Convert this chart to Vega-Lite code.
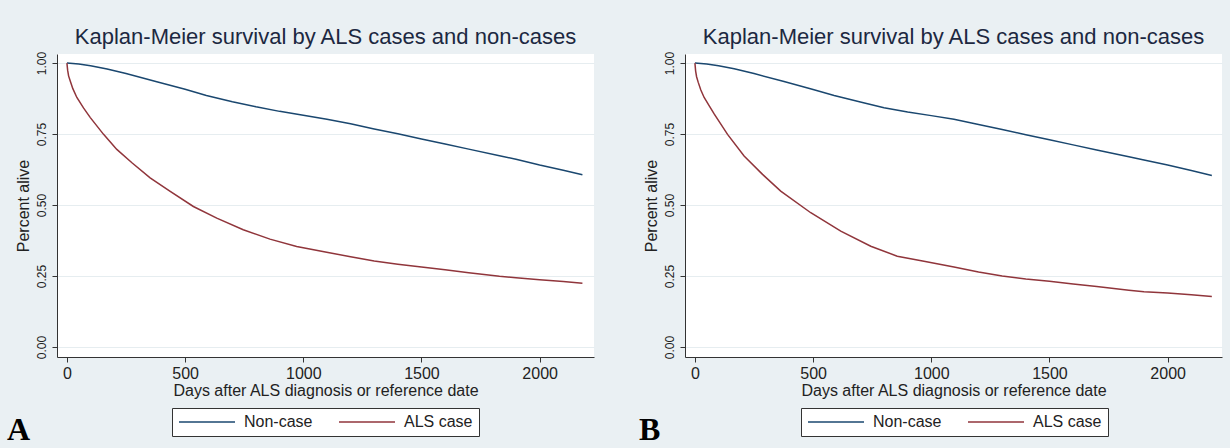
{
 "$schema": "https://vega.github.io/schema/vega-lite/v6.json",
 "background": "#eaf0f3",
 "padding": {"left": 7, "top": 26, "right": 8, "bottom": 5},
 "spacing": 45,
 "config": {
  "font": "Liberation Sans",
  "view": {"fill": "white", "stroke": null},
  "axis": {"domainColor": "#333333", "tickColor": "#333333", "labelColor": "#222222", "titleColor": "#222222", "titleFontWeight": "normal", "labelFlush": false}
 },
 "datasets": {
  "km": [
   {"panel":"A","group":"Non-case","days":0,"survival":1.0},
   {"panel":"A","group":"Non-case","days":50,"survival":0.997},
   {"panel":"A","group":"Non-case","days":100,"survival":0.991},
   {"panel":"A","group":"Non-case","days":170,"survival":0.979},
   {"panel":"A","group":"Non-case","days":250,"survival":0.963},
   {"panel":"A","group":"Non-case","days":380,"survival":0.934},
   {"panel":"A","group":"Non-case","days":500,"survival":0.908},
   {"panel":"A","group":"Non-case","days":590,"survival":0.886},
   {"panel":"A","group":"Non-case","days":700,"survival":0.864},
   {"panel":"A","group":"Non-case","days":800,"survival":0.846},
   {"panel":"A","group":"Non-case","days":900,"survival":0.830},
   {"panel":"A","group":"Non-case","days":1000,"survival":0.816},
   {"panel":"A","group":"Non-case","days":1100,"survival":0.802},
   {"panel":"A","group":"Non-case","days":1200,"survival":0.786},
   {"panel":"A","group":"Non-case","days":1300,"survival":0.768},
   {"panel":"A","group":"Non-case","days":1400,"survival":0.751},
   {"panel":"A","group":"Non-case","days":1500,"survival":0.733},
   {"panel":"A","group":"Non-case","days":1600,"survival":0.715},
   {"panel":"A","group":"Non-case","days":1700,"survival":0.697},
   {"panel":"A","group":"Non-case","days":1830,"survival":0.674},
   {"panel":"A","group":"Non-case","days":1900,"survival":0.661},
   {"panel":"A","group":"Non-case","days":2000,"survival":0.641},
   {"panel":"A","group":"Non-case","days":2100,"survival":0.623},
   {"panel":"A","group":"Non-case","days":2181,"survival":0.607},
   {"panel":"A","group":"ALS case","days":0,"survival":1.0},
   {"panel":"A","group":"ALS case","days":3,"survival":0.975},
   {"panel":"A","group":"ALS case","days":7,"survival":0.955},
   {"panel":"A","group":"ALS case","days":14,"survival":0.937},
   {"panel":"A","group":"ALS case","days":25,"survival":0.910},
   {"panel":"A","group":"ALS case","days":42,"survival":0.879},
   {"panel":"A","group":"ALS case","days":70,"survival":0.842},
   {"panel":"A","group":"ALS case","days":99,"survival":0.808},
   {"panel":"A","group":"ALS case","days":155,"survival":0.749},
   {"panel":"A","group":"ALS case","days":211,"survival":0.696},
   {"panel":"A","group":"ALS case","days":275,"survival":0.649},
   {"panel":"A","group":"ALS case","days":352,"survival":0.596},
   {"panel":"A","group":"ALS case","days":437,"survival":0.548},
   {"panel":"A","group":"ALS case","days":535,"survival":0.495},
   {"panel":"A","group":"ALS case","days":634,"survival":0.454},
   {"panel":"A","group":"ALS case","days":746,"survival":0.413},
   {"panel":"A","group":"ALS case","days":859,"survival":0.380},
   {"panel":"A","group":"ALS case","days":972,"survival":0.354},
   {"panel":"A","group":"ALS case","days":1099,"survival":0.334},
   {"panel":"A","group":"ALS case","days":1200,"survival":0.318},
   {"panel":"A","group":"ALS case","days":1300,"survival":0.303},
   {"panel":"A","group":"ALS case","days":1400,"survival":0.292},
   {"panel":"A","group":"ALS case","days":1500,"survival":0.282},
   {"panel":"A","group":"ALS case","days":1600,"survival":0.272},
   {"panel":"A","group":"ALS case","days":1700,"survival":0.262},
   {"panel":"A","group":"ALS case","days":1830,"survival":0.249},
   {"panel":"A","group":"ALS case","days":1900,"survival":0.244},
   {"panel":"A","group":"ALS case","days":2000,"survival":0.237},
   {"panel":"A","group":"ALS case","days":2100,"survival":0.231},
   {"panel":"A","group":"ALS case","days":2181,"survival":0.225},
   {"panel":"B","group":"Non-case","days":0,"survival":1.0},
   {"panel":"B","group":"Non-case","days":50,"survival":0.997},
   {"panel":"B","group":"Non-case","days":100,"survival":0.991},
   {"panel":"B","group":"Non-case","days":166,"survival":0.980},
   {"panel":"B","group":"Non-case","days":250,"survival":0.963},
   {"panel":"B","group":"Non-case","days":377,"survival":0.935},
   {"panel":"B","group":"Non-case","days":500,"survival":0.907},
   {"panel":"B","group":"Non-case","days":589,"survival":0.886},
   {"panel":"B","group":"Non-case","days":700,"survival":0.863},
   {"panel":"B","group":"Non-case","days":800,"survival":0.843},
   {"panel":"B","group":"Non-case","days":900,"survival":0.828},
   {"panel":"B","group":"Non-case","days":1000,"survival":0.815},
   {"panel":"B","group":"Non-case","days":1096,"survival":0.802},
   {"panel":"B","group":"Non-case","days":1200,"survival":0.784},
   {"panel":"B","group":"Non-case","days":1300,"survival":0.766},
   {"panel":"B","group":"Non-case","days":1400,"survival":0.748},
   {"panel":"B","group":"Non-case","days":1500,"survival":0.730},
   {"panel":"B","group":"Non-case","days":1600,"survival":0.712},
   {"panel":"B","group":"Non-case","days":1700,"survival":0.694},
   {"panel":"B","group":"Non-case","days":1836,"survival":0.670},
   {"panel":"B","group":"Non-case","days":1900,"survival":0.659},
   {"panel":"B","group":"Non-case","days":2000,"survival":0.641},
   {"panel":"B","group":"Non-case","days":2100,"survival":0.622},
   {"panel":"B","group":"Non-case","days":2187,"survival":0.604},
   {"panel":"B","group":"ALS case","days":0,"survival":1.0},
   {"panel":"B","group":"ALS case","days":3,"survival":0.972},
   {"panel":"B","group":"ALS case","days":7,"survival":0.952},
   {"panel":"B","group":"ALS case","days":14,"survival":0.932},
   {"panel":"B","group":"ALS case","days":25,"survival":0.905},
   {"panel":"B","group":"ALS case","days":39,"survival":0.879},
   {"panel":"B","group":"ALS case","days":60,"survival":0.850},
   {"panel":"B","group":"ALS case","days":82,"survival":0.820},
   {"panel":"B","group":"ALS case","days":138,"survival":0.749},
   {"panel":"B","group":"ALS case","days":208,"survival":0.673},
   {"panel":"B","group":"ALS case","days":286,"survival":0.608},
   {"panel":"B","group":"ALS case","days":363,"survival":0.549},
   {"panel":"B","group":"ALS case","days":490,"survival":0.473},
   {"panel":"B","group":"ALS case","days":617,"survival":0.408},
   {"panel":"B","group":"ALS case","days":744,"survival":0.355},
   {"panel":"B","group":"ALS case","days":856,"survival":0.320},
   {"panel":"B","group":"ALS case","days":969,"survival":0.302},
   {"panel":"B","group":"ALS case","days":1096,"survival":0.282},
   {"panel":"B","group":"ALS case","days":1200,"survival":0.264},
   {"panel":"B","group":"ALS case","days":1300,"survival":0.250},
   {"panel":"B","group":"ALS case","days":1400,"survival":0.240},
   {"panel":"B","group":"ALS case","days":1500,"survival":0.232},
   {"panel":"B","group":"ALS case","days":1600,"survival":0.222},
   {"panel":"B","group":"ALS case","days":1700,"survival":0.213},
   {"panel":"B","group":"ALS case","days":1836,"survival":0.200},
   {"panel":"B","group":"ALS case","days":1900,"survival":0.195},
   {"panel":"B","group":"ALS case","days":2000,"survival":0.190},
   {"panel":"B","group":"ALS case","days":2100,"survival":0.184},
   {"panel":"B","group":"ALS case","days":2187,"survival":0.178}
  ]
 },
 "resolve": {"scale": {"color": "independent"}, "legend": {"color": "independent"}},
 "hconcat": [
  {
   "title": {"text": "A", "orient": "bottom", "anchor": "start", "frame": "group", "font": "Liberation Serif", "fontWeight": "bold", "fontSize": 32, "color": "#000000", "dx": -50, "offset": -22},
   "vconcat": [
    {
     "title": {"text": "Kaplan-Meier survival by ALS cases and non-cases", "anchor": "middle", "frame": "group", "fontSize": 22, "fontWeight": "normal", "color": "#1c2841", "offset": 2},
     "width": 537, "height": 303,
     "data": {"name": "km"},
     "transform": [{"filter": "datum.panel == 'A'"}],
     "mark": {"type": "line", "strokeWidth": 1.5},
     "encoding": {
      "x": {"field": "days", "type": "quantitative", "scale": {"domain": [-42, 2230], "nice": false, "zero": false},
            "axis": {"title": "Days after ALS diagnosis or reference date", "values": [0, 500, 1000, 1500, 2000], "format": "d", "grid": false, "tickSize": 5, "labelFontSize": 16, "labelPadding": 3, "titleFontSize": 16, "titlePadding": 1}},
      "y": {"field": "survival", "type": "quantitative", "scale": {"domain": [-0.035, 1.032], "nice": false, "zero": false},
            "axis": {"title": "Percent alive", "values": [0, 0.25, 0.5, 0.75, 1], "format": ".2f", "labelAngle": -90, "labelAlign": "center", "labelBaseline": "bottom", "grid": true, "gridColor": "#e6edf0", "tickSize": 5, "labelFontSize": 12, "labelPadding": 4, "titleFontSize": 16, "titlePadding": 4}},
      "color": {"field": "group", "type": "nominal", "scale": {"domain": ["Non-case", "ALS case"], "range": ["#1a476f", "#90353b"]},
                "legend": {"title": null, "orient": "none", "legendX": 115, "legendY": 354, "direction": "horizontal", "symbolType": "M-1,0H7", "symbolSize": 196, "symbolStrokeWidth": 1.5, "labelFontSize": 16, "labelColor": "#222222", "labelOffset": 50, "columnPadding": 23, "padding": 6, "strokeColor": "#333333", "fillColor": "#ffffff", "labelLimit": 300}}
     }
    }
   ]
  },
  {
   "title": {"text": "B", "orient": "bottom", "anchor": "start", "frame": "group", "font": "Liberation Serif", "fontWeight": "bold", "fontSize": 32, "color": "#000000", "dx": -46, "offset": -22},
   "vconcat": [
    {
     "title": {"text": "Kaplan-Meier survival by ALS cases and non-cases", "anchor": "middle", "frame": "group", "fontSize": 22, "fontWeight": "normal", "color": "#1c2841", "offset": 2},
     "width": 537, "height": 303,
     "data": {"name": "km"},
     "transform": [{"filter": "datum.panel == 'B'"}],
     "mark": {"type": "line", "strokeWidth": 1.5},
     "encoding": {
      "x": {"field": "days", "type": "quantitative", "scale": {"domain": [-42, 2230], "nice": false, "zero": false},
            "axis": {"title": "Days after ALS diagnosis or reference date", "values": [0, 500, 1000, 1500, 2000], "format": "d", "grid": false, "tickSize": 5, "labelFontSize": 16, "labelPadding": 3, "titleFontSize": 16, "titlePadding": 1}},
      "y": {"field": "survival", "type": "quantitative", "scale": {"domain": [-0.035, 1.032], "nice": false, "zero": false},
            "axis": {"title": "Percent alive", "values": [0, 0.25, 0.5, 0.75, 1], "format": ".2f", "labelAngle": -90, "labelAlign": "center", "labelBaseline": "bottom", "grid": true, "gridColor": "#e6edf0", "tickSize": 5, "labelFontSize": 12, "labelPadding": 4, "titleFontSize": 16, "titlePadding": 4}},
      "color": {"field": "group", "type": "nominal", "scale": {"domain": ["Non-case", "ALS case"], "range": ["#1a476f", "#90353b"]},
                "legend": {"title": null, "orient": "none", "legendX": 116, "legendY": 354, "direction": "horizontal", "symbolType": "M-1,0H7", "symbolSize": 196, "symbolStrokeWidth": 1.5, "labelFontSize": 16, "labelColor": "#222222", "labelOffset": 50, "columnPadding": 23, "padding": 6, "strokeColor": "#333333", "fillColor": "#ffffff", "labelLimit": 300}}
     }
    }
   ]
  }
 ]
}
